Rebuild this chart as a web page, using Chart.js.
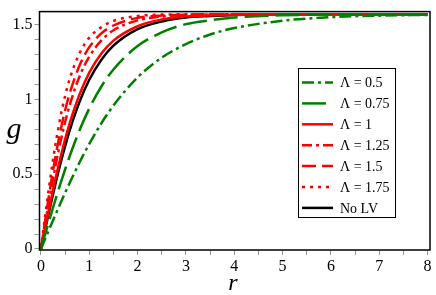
<!DOCTYPE html>
<html>
<head>
<meta charset="utf-8">
<script src="https://cdn.jsdelivr.net/npm/chart.js@4.4.0/dist/chart.umd.min.js"></script>
<style>
  html, body { margin: 0; padding: 0; background: #fff; }
  #wrap { width: 436px; height: 295px; }
</style>
</head>
<body>
<div id="wrap"><canvas id="chart" width="436" height="295"></canvas></div>
<script>
// values
const rValues   = [0, 0.1, 0.2, 0.3, 0.4, 0.5, 0.6, 0.8, 1, 1.25, 1.5, 2, 2.5, 3, 3.5, 4, 5, 6, 7, 8];
const gLambda050 = [0, 0.077, 0.153, 0.229, 0.303, 0.376, 0.446, 0.580, 0.703, 0.841, 0.960, 1.148, 1.280, 1.371, 1.435, 1.478, 1.527, 1.551, 1.561, 1.566];
const gLambda075 = [0, 0.112, 0.222, 0.330, 0.433, 0.532, 0.626, 0.796, 0.940, 1.087, 1.201, 1.358, 1.449, 1.504, 1.530, 1.548, 1.563, 1.568, 1.570, 1.571];
const gLambda100 = [0, 0.161, 0.318, 0.468, 0.606, 0.734, 0.847, 1.035, 1.180, 1.308, 1.394, 1.490, 1.536, 1.555, 1.563, 1.567, 1.570, 1.571, 1.571, 1.571];
const gLambda125 = [0, 0.194, 0.380, 0.554, 0.711, 0.849, 0.968, 1.156, 1.287, 1.395, 1.463, 1.529, 1.555, 1.565, 1.569, 1.570, 1.571, 1.571, 1.571, 1.571];
const gLambda150 = [0, 0.217, 0.426, 0.616, 0.784, 0.928, 1.046, 1.229, 1.350, 1.442, 1.495, 1.546, 1.562, 1.568, 1.570, 1.570, 1.571, 1.571, 1.571, 1.571];
const gLambda175 = [0, 0.252, 0.489, 0.699, 0.878, 1.024, 1.144, 1.311, 1.414, 1.484, 1.526, 1.558, 1.568, 1.570, 1.571, 1.571, 1.571, 1.571, 1.571, 1.571];
const gNoLV      = [0, 0.149, 0.296, 0.435, 0.567, 0.688, 0.799, 0.986, 1.132, 1.265, 1.360, 1.471, 1.522, 1.549, 1.559, 1.566, 1.570, 1.570, 1.571, 1.571];

const seriesLabels = ['Λ = 0.5', 'Λ = 0.75', 'Λ = 1', 'Λ = 1.25', 'Λ = 1.5', 'Λ = 1.75', 'No LV'];
const xMajorTicks = [0, 1, 2, 3, 4, 5, 6, 7, 8];
const yMajorTicks = [0, 0.5, 1, 1.5];

const GREEN = '#008000';
const RED = '#ff0000';
const SERIF = '"Liberation Serif", "DejaVu Serif", serif';

const styles = [
  { color: GREEN, dash: [12, 4, 3, 4] },
  { color: GREEN, dash: [24, 7] },
  { color: RED,   dash: [] },
  { color: RED,   dash: [10, 4, 3, 4] },
  { color: RED,   dash: [14, 6] },
  { color: RED,   dash: [3, 5] },
  { color: '#000', dash: [] },
];
const seriesValues = [gLambda050, gLambda075, gLambda100, gLambda125, gLambda150, gLambda175, gNoLV];

function toPoints(ys) {
  return rValues.map((r, i) => ({ x: r, y: ys[i] }));
}

// minor ticks: x every 0.5, y every 0.1
const xTicks = [];
for (let i = 0; i <= 16; i++) xTicks.push(i / 2);
const yTicks = [];
for (let i = 0; i <= 15; i++) yTicks.push(i / 10);

function isMajor(list, v) {
  return list.some((m) => Math.abs(m - v) < 1e-6);
}

const frameAndLegend = {
  id: 'frameAndLegend',
  afterDatasetsDraw(chart) {
    const { ctx, chartArea: a } = chart;
    ctx.save();
    ctx.strokeStyle = '#000';
    ctx.lineWidth = 1.5;
    ctx.setLineDash([]);
    ctx.strokeRect(a.left, a.top, a.right - a.left, a.bottom - a.top);

    // legend box
    const bx = 298, by = 68, bw = 97, bh = 149;
    ctx.fillStyle = '#fff';
    ctx.fillRect(bx, by, bw, bh);
    ctx.lineWidth = 1;
    ctx.strokeRect(bx + 0.5, by + 0.5, bw, bh);
    ctx.font = '14px ' + SERIF;
    ctx.textBaseline = 'middle';
    chart.data.datasets.forEach((ds, i) => {
      const y = by + 14.5 + i * 20.9;
      ctx.strokeStyle = ds.borderColor;
      ctx.lineWidth = 2.5;
      ctx.setLineDash(ds.borderDash || []);
      ctx.beginPath();
      ctx.moveTo(302, y);
      ctx.lineTo(333, y);
      ctx.stroke();
      ctx.setLineDash([]);
      ctx.fillStyle = '#000';
      ctx.fillText(ds.label, 340, y + 1);
    });

    // axis titles
    ctx.fillStyle = '#000';
    ctx.textAlign = 'center';
    ctx.textBaseline = 'alphabetic';
    ctx.font = 'italic 30px ' + SERIF;
    ctx.fillText('g', 14, 138);
    ctx.font = 'italic 24px ' + SERIF;
    ctx.fillText('r', 233, 290);
    ctx.restore();
  },
};

new Chart(document.getElementById('chart'), {
  type: 'line',
  data: {
    datasets: seriesValues.map((ys, i) => ({
      label: seriesLabels[i],
      data: toPoints(ys),
      borderColor: styles[i].color,
      borderDash: styles[i].dash,
      borderWidth: 2.5,
      pointRadius: 0,
      fill: false,
      cubicInterpolationMode: 'monotone',
    })),
  },
  options: {
    responsive: false,
    animation: false,
    devicePixelRatio: 1,
    layout: { padding: { left: 0, top: 5.5, right: 6, bottom: 0 } },
    plugins: { legend: { display: false }, tooltip: { enabled: false } },
    scales: {
      x: {
        type: 'linear',
        min: -0.03,
        max: 8.05,
        afterBuildTicks: (axis) => { axis.ticks = xTicks.map((v) => ({ value: v })); },
        afterFit: (scale) => { scale.height = 45; },
        grid: { drawOnChartArea: false, drawTicks: true, tickLength: 5, color: '#999' },
        border: { display: false },
        ticks: {
          autoSkip: false,
          maxRotation: 0,
          padding: 2,
          color: '#000',
          font: { family: SERIF, size: 16 },
          callback: (v) => (isMajor(xMajorTicks, v) ? String(v) : ''),
        },
      },
      y: {
        type: 'linear',
        min: -0.007,
        max: 1.588,
        afterBuildTicks: (axis) => { axis.ticks = yTicks.map((v) => ({ value: v })); },
        afterFit: (scale) => { scale.width = 39.5; },
        grid: { drawOnChartArea: false, drawTicks: true, tickLength: 5, color: '#999' },
        border: { display: false },
        ticks: {
          autoSkip: false,
          padding: 2,
          color: '#000',
          font: { family: SERIF, size: 16 },
          callback: (v) => (isMajor(yMajorTicks, v) ? String(v) : ''),
        },
      },
    },
  },
  plugins: [frameAndLegend],
});
</script>
</body>
</html>
